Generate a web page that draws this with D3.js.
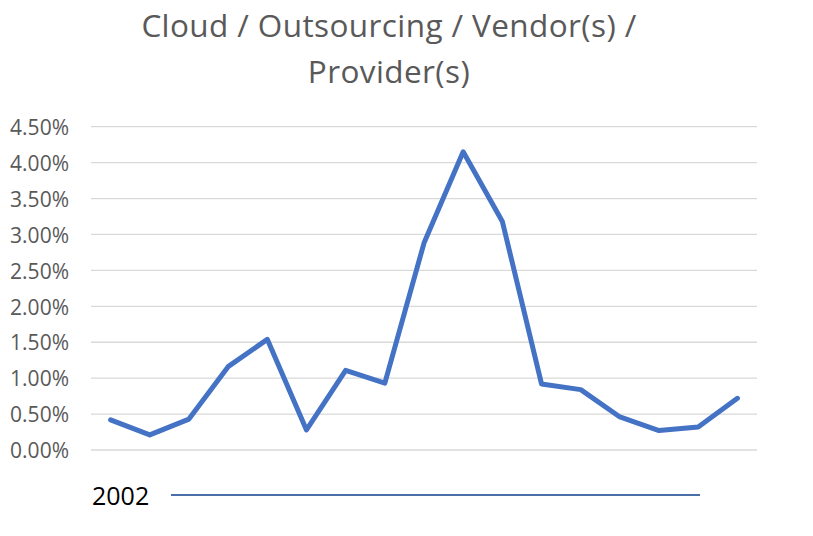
<!DOCTYPE html>
<html><head><meta charset="utf-8">
<script src="https://cdn.jsdelivr.net/npm/d3@7"></script>
<style>body{margin:0;background:#fff}svg{display:block}</style>
</head><body>
<svg id="c" width="813" height="536"></svg>
<script>
const titleLines = ["Cloud / Outsourcing / Vendor(s) /", "Provider(s)"];
const categories = d3.range(1, 18).map(String);
const values = [0.42, 0.21, 0.43, 1.16, 1.54, 0.28, 1.11, 0.93, 2.88, 4.15, 3.18, 0.92, 0.84, 0.46, 0.27, 0.32, 0.72];
const yTicks = [0, 0.5, 1.0, 1.5, 2.0, 2.5, 3.0, 3.5, 4.0, 4.5];
const legendLabel = "2002";

const svg = d3.select("#c");
const font = "'Open Sans', 'Liberation Sans', sans-serif";
const m = {left: 91, right: 56, top: 127, bottom: 86};
const W = 813, H = 536;

const x = d3.scalePoint().domain(categories).range([m.left, W - m.right]).padding(0.5);
const y = d3.scaleLinear().domain([0, 4.5]).range([450, 126.7]);

// gridlines
svg.append("g").selectAll("line").data(yTicks).join("line")
  .attr("x1", m.left).attr("x2", W - m.right)
  .attr("y1", d => y(d)).attr("y2", d => y(d))
  .attr("stroke", "#d9d9d9").attr("stroke-width", 1.3);

// y axis
const yAxis = d3.axisLeft(y).tickValues(yTicks).tickFormat(d => d.toFixed(2) + "%").tickSize(0).tickPadding(0);
const ga = svg.append("g").attr("transform", `translate(69,1)`).call(yAxis);
ga.select(".domain").remove();
ga.selectAll("text").attr("font-family", font).attr("font-size", 21).attr("fill", "#595959");

// line
svg.append("path").datum(values)
  .attr("d", d3.line().x((d, i) => x(categories[i])).y(d => y(d)))
  .attr("fill", "none").attr("stroke", "#4472C4").attr("stroke-width", 5)
  .attr("stroke-linejoin", "round").attr("stroke-linecap", "round");

// title
svg.append("text").attr("font-family", font).attr("font-size", 31.5).attr("fill", "#595959")
  .attr("text-anchor", "middle").attr("letter-spacing", 0.4)
  .selectAll("tspan").data(titleLines).join("tspan")
  .attr("x", 389).attr("y", (d, i) => 37 + i * 46).text(d => d);

// legend
svg.append("text").attr("x", 92).attr("y", 505).attr("font-family", font)
  .attr("font-size", 25).attr("fill", "#000").text(legendLabel);
svg.append("line").attr("x1", 171).attr("x2", 700).attr("y1", 495).attr("y2", 495)
  .attr("stroke", "#4a6fa8").attr("stroke-width", 2);
</script>
</body></html>
